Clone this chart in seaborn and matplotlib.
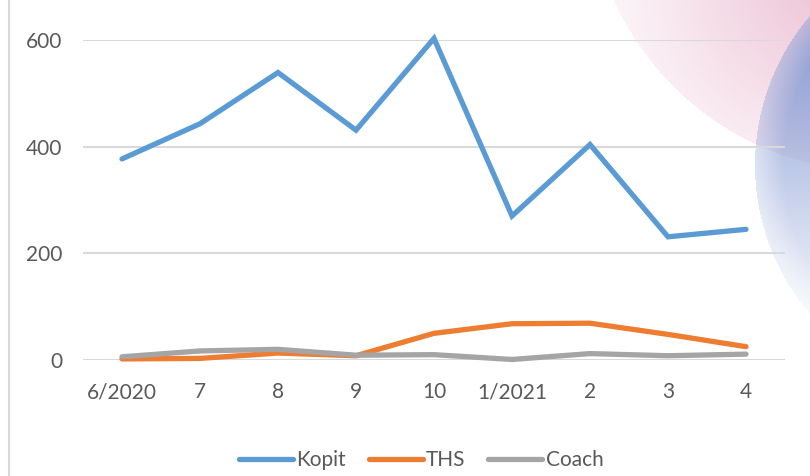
import numpy as np
import pandas as pd
import seaborn as sns
import matplotlib.pyplot as plt
from matplotlib.lines import Line2D

MONTHS = ["6/2020", "7", "8", "9", "10", "1/2021", "2", "3", "4"]
KOPIT = [377, 443, 539, 431, 603, 270, 404, 231, 245]
THS = [2, 3, 13, 8, 50, 68, 69, 48, 25]
COACH = [6, 17, 20, 9, 10, 1, 12, 8, 11]
SERIES = {"Kopit": KOPIT, "THS": THS, "Coach": COACH}
COLORS = {"Kopit": "#5B9BD5", "THS": "#ED7D31", "Coach": "#A5A5A5"}

df = pd.DataFrame(
    [(m, i, name, v) for name, vals in SERIES.items()
     for i, (m, v) in enumerate(zip(MONTHS, vals))],
    columns=["month", "pos", "series", "value"])

sns.set_theme(style="white")
plt.rcParams["font.family"] = ["Lato", "DejaVu Sans"]

W, H = 810, 476
fig = plt.figure(figsize=(W / 100, H / 100), dpi=100)

# decorative background circles (pixel coordinates)
bg = fig.add_axes([0, 0, 1, 1], zorder=0)
bg.set_xlim(0, W)
bg.set_ylim(H, 0)
bg.axis("off")
xx, yy = np.meshgrid(np.arange(W) + 0.5, np.arange(H) + 0.5)

d_pink = np.hypot(xx - 880, yy + 120) / 292
pink = np.zeros((H, W, 4))
pink[..., :3] = np.array([236, 192, 212]) / 255
a_pink = 0.06 + 0.85 * np.clip(1 - np.hypot(xx - 820, yy + 10) / 235, 0, 1)
pink[..., 3] = np.where(d_pink < 1, a_pink, 0)
bg.imshow(pink, extent=(0, W, H, 0), interpolation="bilinear")

d_blue = np.hypot(xx - 985, yy - 165) / 230
blue = np.zeros((H, W, 4))
blue[..., :3] = np.array([140, 160, 214]) / 255
a_blue = np.clip(1.0 - (yy - 30) / 320, 0.1, 0.95) * np.clip(0.5 + (1 - d_blue) * 4, 0, 1)
blue[..., 3] = np.where(d_blue < 1, a_blue, 0)
bg.imshow(blue, extent=(0, W, H, 0), interpolation="bilinear")
bg.add_line(Line2D([9, 9], [0, H], color="#D9D9D9", lw=1.5))

ax = fig.add_axes([83 / W, 116 / H, 702 / W, 320 / H], zorder=1)
ax.set_facecolor("none")
sns.lineplot(data=df, x="pos", y="value", hue="series", palette=COLORS,
             linewidth=3.8, ax=ax, legend=False, clip_on=False,
             solid_capstyle="round", solid_joinstyle="miter")

ax.set_xlim(-0.5, len(MONTHS) - 0.5)
ax.set_ylim(0, 600)
ax.set_yticks([0, 200, 400, 600])
ax.set_xticks(range(len(MONTHS)))
ax.set_xticklabels(MONTHS)
ax.yaxis.grid(True, color="#D9D9D9", lw=1.5)
ax.set_axisbelow(True)
for s in ax.spines.values():
    s.set_visible(False)
ax.tick_params(axis="x", length=0, pad=16, labelsize=15, labelcolor="#595959")
ax.tick_params(axis="y", length=0, pad=15, labelsize=15, labelcolor="#595959")
ax.set_xlabel("")
ax.set_ylabel("")

handles = [Line2D([], [], color=COLORS[n], lw=3.8, solid_capstyle="round") for n in SERIES]
fig.legend(handles, list(SERIES), loc="center", bbox_to_anchor=(421 / W, 1 - 460 / H),
           ncol=3, frameon=False, fontsize=15, labelcolor="#595959",
           handlelength=2.6, handletextpad=0.15, columnspacing=1.1)

fig.savefig("out.png", dpi=100)
